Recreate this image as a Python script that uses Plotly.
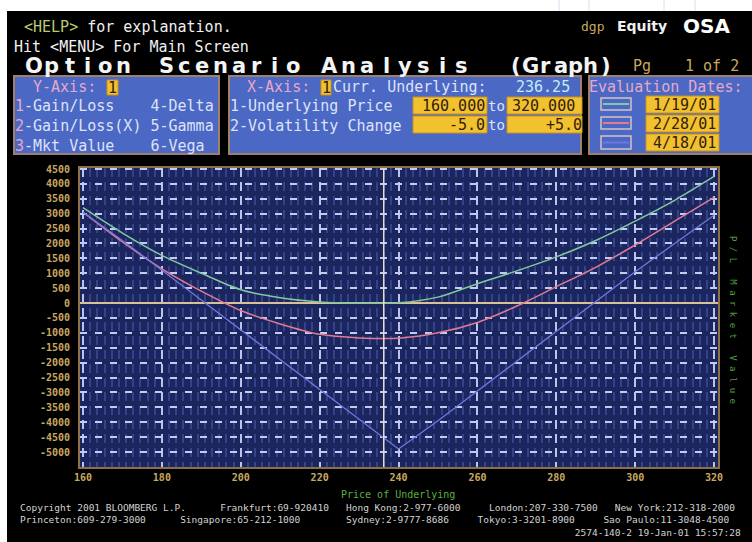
import plotly.graph_objects as go

# ---------------- data ----------------
price = [160, 170, 180, 190, 200, 210, 220, 230, 240, 250, 260, 270, 280, 290, 300, 310, 320]
pl_0119 = [3200, 2350, 1600, 1000, 450, 180, 40, 0, 10, 200, 650, 1080, 1550, 2100, 2750, 3450, 4250]
pl_0228 = [3050, 2050, 1150, 400, -250, -700, -1050, -1170, -1180, -1000, -650, -100, 550, 1200, 1950, 2750, 3550]
pl_0418 = [3050, 2100, 1100, 100, -900, -1900, -2900, -3900, -4900, -3950, -2950, -1950, -950, 50, 1050, 2000, 2950]
eval_dates = ["1/19/01", "2/28/01", "4/18/01"]
curr_underlying = 236.25
x_ticks = [160, 180, 200, 220, 240, 260, 280, 300, 320]
y_ticks = [4500, 4000, 3500, 3000, 2500, 2000, 1500, 1000, 500, 0,
           -500, -1000, -1500, -2000, -2500, -3000, -3500, -4000, -4500, -5000]
x_range_from, x_range_to = "160.000", "320.000"
vol_from, vol_to = "-5.0", "+5.0"

# ---------------- geometry helpers ----------------
W, H = 752, 542
ML, MR, MT, MB = 80, 34, 168, 75
PX0, PX1 = ML, W - MR
PY0, PY1 = MT, H - MB


def xp(px):
    return (px - PX0) / (PX1 - PX0)


def yp(py):
    return (PY1 - py) / (PY1 - PY0)


MONO = "DejaVu Sans Mono"
SANS = "DejaVu Sans"
GREEN, RED, BLUE = "#84c8a0", "#e27a92", "#7078e0"
TAN = "#c8a860"
PANEL = "#4a68c4"
PBORDER = "#a0806a"
YEL = "#f2c12e"
PINK = "#e6a8c8"
LTXT = "#dfe2f8"

shapes, anns = [], []


def rect(x0, y0, x1, y1, fill, line=None, lw=0):
    shapes.append(dict(type="rect", xref="paper", yref="paper",
                       x0=xp(x0), x1=xp(x1), y0=yp(y1), y1=yp(y0),
                       fillcolor=fill, line=dict(color=line or fill, width=lw), layer="above"))


def hline(x0, x1, y, color, lw):
    shapes.append(dict(type="line", xref="paper", yref="paper",
                       x0=xp(x0), x1=xp(x1), y0=yp(y), y1=yp(y),
                       line=dict(color=color, width=lw), layer="above"))


def txt(s, px, py, color, size=15, family=MONO, anchor="left", bold=False, angle=0, align="center"):
    anns.append(dict(text=s, x=xp(px), y=yp(py), xref="paper", yref="paper",
                     xanchor=anchor, yanchor="middle", showarrow=False, borderpad=0,
                     textangle=angle, align=align,
                     font=dict(family=family, size=size, color=color,
                               weight="bold" if bold else "normal")))


NB = "\u00a0"

# white page edges
rect(-2, -2, 755, 11, "white")
rect(-2, -2, 7, 545, "white")
for vx in [559, 589, 664, 695]:
    shapes.append(dict(type="line", xref="paper", yref="paper", x0=xp(vx), x1=xp(vx),
                       y0=yp(0), y1=yp(11), line=dict(color="#d4e2f4", width=1), layer="above"))

# header text
txt("<span style='color:#b8cc70'>&lt;HELP&gt;</span> for explanation.", 23, 27, "#f0f0f0")
txt("Hit &lt;MENU&gt; For Main Screen", 13, 47, "#f0f0f0")
txt("dgp", 580, 26, TAN, size=13)
txt("Equity", 616, 26, "#f0f0f0", size=14, family=SANS, bold=True)
txt("OSA", 682, 26, "#ffffff", size=20, family=SANS, bold=True)

# big title, laid out char by char on the terminal's wide pitch
title_words = [("Option", 25, 132), ("Scenario", 157, 302), ("Analysis", 320, 471), ("(Graph)", 508, 613)]
for word, x0, x1 in title_words:
    pitch = (x1 - x0) / len(word)
    for i, ch in enumerate(word):
        txt(ch, x0 + (i + 0.5) * pitch, 66, "#f4f4f4", size=21, family=SANS, anchor="center", bold=True)
txt("Pg", 632, 66, TAN, size=15)
txt("1" + NB + "of" + NB + "2", 740, 66, TAN, size=15, anchor="right")

# ---- panel 1: Y-Axis ----
rect(14, 76, 219, 154, PANEL, PBORDER, 2)
txt("Y-Axis:", 32, 87, PINK)
rect(107, 80, 118, 95, YEL, "#c89020", 1)
txt("1", 112.5, 88, "#302010", anchor="center")
sp4 = NB * 4
txt(f"<span style='color:{PINK}'>1</span>-Gain/Loss{sp4}4-Delta", 14, 106, LTXT)
txt(f"<span style='color:{PINK}'>2</span>-Gain/Loss(X){NB}5-Gamma", 14, 126, LTXT)
txt(f"<span style='color:{PINK}'>3</span>-Mkt{NB}Value{sp4}6-Vega", 14, 146, LTXT)

# ---- panel 2: X-Axis ----
rect(229, 76, 581, 154, PANEL, PBORDER, 2)
txt("X-Axis:", 246, 87, PINK)
rect(321, 80, 331, 95, YEL, "#c89020", 1)
txt("1", 326, 88, "#302010", anchor="center")
txt("Curr." + NB + "Underlying:", 332, 87, LTXT)
txt(f"{curr_underlying:.2f}", 515, 87, "#c4ecf4")
txt("1-Underlying" + NB + "Price", 229, 106, LTXT)
txt("2-Volatility" + NB + "Change", 229, 126, LTXT)
rect(413, 97, 487, 114, YEL, "#c89020", 1)
rect(507, 97, 582, 114, YEL, "#c89020", 1)
rect(413, 116, 487, 133, YEL, "#c89020", 1)
rect(507, 116, 582, 133, YEL, "#c89020", 1)
txt(x_range_from, 486, 106, "#302010", anchor="right")
txt(x_range_to, 511, 106, "#302010")
txt(vol_from, 486, 125, "#302010", anchor="right")
txt(vol_to, 583, 125, "#302010", anchor="right")
txt("to", 487, 106, LTXT, size=14)
txt("to", 487, 125, LTXT, size=14)

# ---- panel 3: Evaluation dates ----
rect(589, 76, 756, 154, PANEL, PBORDER, 2)
txt("Evaluation" + NB + "Dates:", 588, 87, PINK)
sw_y = [(98, 110), (117, 129), (136, 149)]
dt_y = [(96, 113), (115, 132), (134, 151)]
for (sy0, sy1), (dy0, dy1), d, c in zip(sw_y, dt_y, eval_dates, [GREEN, RED, BLUE]):
    rect(601, sy0, 631, sy1, PANEL, "#d8c0c4", 1.5)
    hline(603, 629, (sy0 + sy1) / 2, c, 2)
    rect(646, dy0, 719, dy1, YEL, "#c89020", 1)
    txt(d, 717, (dy0 + dy1) / 2 + 0.5, "#302010", anchor="right")

# chart captions
txt("Price" + NB + "of" + NB + "Underlying", 398, 494, "#5cb040", size=10, anchor="center")
txt(NB.join("P/L") + NB * 3 + NB.join("Market") + NB * 3 + NB.join("Value"),
    733, 320, "#4f9c44", size=9, anchor="center", angle=90)

# footer: one monospace block, segments padded to the columns the terminal uses
FT = "#d2d2d2"
FSIZE = 9.5
FPITCH = 0.602 * FSIZE
FX0 = 20
foot1 = [("Copyright 2001 BLOOMBERG L.P.", 20), ("Frankfurt:69-920410", 218), ("Hong Kong:2-977-6000", 348),
         ("London:207-330-7500", 487), ("New York:212-318-2000", 612)]
foot2 = [("Princeton:609-279-3000", 20), ("Singapore:65-212-1000", 182), ("Sydney:2-9777-8686", 345),
         ("Tokyo:3-3201-8900", 478), ("Sao Paulo:11-3048-4500", 605)]
foot3 = "2574-140-2 19-Jan-01 15:57:28"


def build_line(segs):
    s = ""
    for seg, x in segs:
        col = round((x - FX0) / FPITCH)
        if len(s) < col:
            s += " " * (col - len(s))
        elif s:
            s += " "
        s += seg
    return s


l1 = build_line(foot1)
l2 = build_line(foot2)
end_col = round((743 - FX0) / FPITCH)
l3 = " " * (end_col - len(foot3)) + foot3
block = "<br>".join(line.replace(" ", NB) for line in [l1, l2, l3])
txt(block, FX0 - 1, 519.5, FT, size=FSIZE, align="left")

# current underlying vertical line
shapes.append(dict(type="line", xref="x", yref="paper", x0=curr_underlying, x1=curr_underlying,
                   y0=0, y1=1, line=dict(color="#e6dccc", width=1.5), layer="above"))

# ---------------- figure ----------------
fig = go.Figure()
fig.add_trace(go.Scatter(x=price, y=pl_0119, mode="lines", name=eval_dates[0],
                         line=dict(color=GREEN, width=1.5, shape="spline", smoothing=0.8)))
fig.add_trace(go.Scatter(x=price, y=pl_0228, mode="lines", name=eval_dates[1],
                         line=dict(color=RED, width=1.5, shape="spline", smoothing=0.8)))
fig.add_trace(go.Scatter(x=price, y=pl_0418, mode="lines", name=eval_dates[2],
                         line=dict(color=BLUE, width=1.3)))

fig.update_layout(
    width=W, height=H,
    margin=dict(l=ML, r=MR, t=MT, b=MB, pad=0),
    paper_bgcolor="#000000",
    plot_bgcolor="#1b255e",
    showlegend=False,
    shapes=shapes,
    annotations=anns,
    xaxis=dict(range=[159.24, 321.0], tickvals=x_ticks, ticktext=[str(v) for v in x_ticks],
               showgrid=True, gridcolor="#bcc4ee", gridwidth=1.5, griddash="9px,5px",
               minor=dict(dtick=20 / 11, tick0=160, showgrid=True, gridcolor="#34428a", gridwidth=2.2),
               showline=True, mirror=True, linecolor="#8c7048", linewidth=2,
               zeroline=False, ticks="",
               tickfont=dict(family=MONO, size=10, color=TAN, weight="bold")),
    yaxis=dict(range=[-5503, 4534], tickvals=y_ticks, ticktext=[str(v) for v in y_ticks],
               showgrid=True, gridcolor="#c4cbf0", gridwidth=2, griddash="7px,8px",
               zeroline=True, zerolinecolor="#d8c098", zerolinewidth=1.5,
               showline=True, mirror=True, linecolor="#8c7048", linewidth=2,
               ticks="", ticklabelstandoff=6,
               tickfont=dict(family=MONO, size=10, color=TAN, weight="bold")),
)

fig.write_html("out.html", config={"displayModeBar": False},
               post_script="document.body.style.margin='0';document.body.style.overflow='hidden';")
